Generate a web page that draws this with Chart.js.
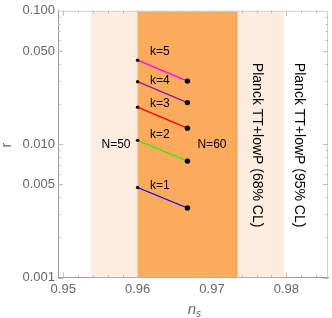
<!DOCTYPE html>
<html>
<head>
<meta charset="utf-8">
<script src="https://cdn.jsdelivr.net/npm/chart.js@4"></script>
<style>
html,body{margin:0;padding:0;background:#fff;}
#wrap{width:332px;height:318px;}
</style>
</head>
<body>
<div id="wrap"><canvas id="c" width="332" height="318"></canvas></div>
<script>
// ---- data ----
const nsValues = [0.96, 0.9667];            // N=50, N=60
const nLabels = ['N=50', 'N=60'];
const kLabels = ['k=1', 'k=2', 'k=3', 'k=4', 'k=5'];
const rN50 = [0.00473, 0.01068, 0.01895, 0.0294, 0.0426];
const rN60 = [0.00332, 0.00746, 0.01318, 0.0205, 0.0297];
const kColors = ['#0000ff', '#33ee00', '#ff0000', '#7f1f9f', '#ff00ff'];
const kLabelNs = 0.963;
const kLabelR = [0.0049, 0.01183, 0.01995, 0.0297, 0.0497];
const nLabelNs = [0.9571, 0.9700];
const nLabelR = 0.00998;
const band95 = [0.9537, 0.9797];
const band68 = [0.9600, 0.9734];
const bandTexts = ['Planck TT+lowP (68% CL)', 'Planck TT+lowP (95% CL)'];
const bandTextNs = [0.9760, 0.9817];
const bandTextR = 0.0407;
const xTicks = [0.95, 0.96, 0.97, 0.98];
const yTicks = [0.001, 0.005, 0.01, 0.05, 0.1];
const xRange = [0.9493, 0.9856];
const yRange = [0.001, 0.1];

const FONT = '"Liberation Sans", Arial, sans-serif';

const datasets = kLabels.map((k, i) => ({
  label: k,
  data: [{x: nsValues[0], y: rN50[i]}, {x: nsValues[1], y: rN60[i]}],
  borderColor: kColors[i],
  borderWidth: 1.3,
  pointRadius: [1.7, 2.7],
  pointBackgroundColor: '#000',
  pointBorderWidth: 0,
  showLine: true,
  fill: false
}));

const decor = {
  id: 'decor',
  beforeDatasetsDraw(chart) {
    const {ctx, chartArea: a, scales: {x, y}} = chart;
    ctx.save();
    ctx.beginPath(); ctx.rect(a.left, a.top, a.right - a.left, a.bottom - a.top); ctx.clip();
    const x95a = x.getPixelForValue(band95[0]), x95b = x.getPixelForValue(band95[1]);
    ctx.fillStyle = '#fdede0';
    ctx.fillRect(x95a, a.top, x95b - x95a, a.bottom - a.top);
    const x68a = x.getPixelForValue(band68[0]), x68b = x.getPixelForValue(band68[1]);
    ctx.fillStyle = '#fcab5d';
    ctx.fillRect(x68a, a.top, x68b - x68a, a.bottom - a.top);
    ctx.strokeStyle = '#f39c4c'; ctx.lineWidth = 1;
    ctx.beginPath(); ctx.moveTo(x68b - 0.5, a.top); ctx.lineTo(x68b - 0.5, a.bottom); ctx.stroke();
    ctx.restore();
  },
  afterDatasetsDraw(chart) {
    const {ctx, chartArea: a, scales: {x, y}} = chart;
    ctx.save();
    // frame top/right
    ctx.strokeStyle = '#cfcfcf'; ctx.lineWidth = 1;
    ctx.beginPath();
    ctx.moveTo(a.left, a.top + 0.5); ctx.lineTo(a.right - 0.5, a.top + 0.5); ctx.lineTo(a.right - 0.5, a.bottom);
    ctx.stroke();
    // inner ticks
    ctx.strokeStyle = '#bdbdbd';
    ctx.beginPath();
    const yMinor = [];
    for (let d = 0.001; d < 0.1; d *= 10) for (let m = 1; m < 10; m++) yMinor.push(+(d * m).toPrecision(3));
    yMinor.forEach(v => {
      const py = Math.round(y.getPixelForValue(v)) + 0.5;
      const major = yTicks.some(t => Math.abs(t - v) < 1e-9);
      const L = major ? 5 : 2.5;
      ctx.moveTo(a.left, py); ctx.lineTo(a.left + L, py);
      ctx.moveTo(a.right, py); ctx.lineTo(a.right - L, py);
    });
    for (let v = 0.95; v < 0.9856; v += 0.002) {
      const px = Math.round(x.getPixelForValue(v)) + 0.5;
      const major = xTicks.some(t => Math.abs(t - v) < 1e-6);
      const L = major ? 5 : 2.5;
      ctx.moveTo(px, a.bottom); ctx.lineTo(px, a.bottom - L);
      ctx.moveTo(px, a.top); ctx.lineTo(px, a.top + L);
    }
    ctx.stroke();
    // labels
    ctx.fillStyle = '#000';
    ctx.font = '12px ' + FONT;
    ctx.textAlign = 'center'; ctx.textBaseline = 'middle';
    kLabels.forEach((k, i) => ctx.fillText(k, x.getPixelForValue(kLabelNs), y.getPixelForValue(kLabelR[i])));
    nLabels.forEach((n, i) => ctx.fillText(n, x.getPixelForValue(nLabelNs[i]), y.getPixelForValue(nLabelR)));
    // vertical band texts
    ctx.font = '14px ' + FONT;
    bandTexts.forEach((t, i) => {
      ctx.save();
      ctx.translate(x.getPixelForValue(bandTextNs[i]), y.getPixelForValue(bandTextR));
      ctx.rotate(Math.PI / 2);
      ctx.textAlign = 'left'; ctx.textBaseline = 'middle';
      ctx.fillText(t, 0, 0);
      ctx.restore();
    });
    // axis titles
    ctx.fillStyle = '#666';
    ctx.save();
    ctx.translate(7, (a.top + a.bottom) / 2 + 1);
    ctx.rotate(-Math.PI / 2);
    ctx.font = '14px ' + FONT;
    ctx.textAlign = 'center'; ctx.textBaseline = 'middle';
    ctx.fillText('r', 0, 0);
    ctx.restore();
    const cx = (a.left + a.right) / 2;
    ctx.font = 'italic 15px ' + FONT;
    ctx.textAlign = 'right'; ctx.textBaseline = 'alphabetic';
    ctx.fillText('n', cx + 3, 314);
    ctx.font = 'italic 10px ' + FONT;
    ctx.textAlign = 'left';
    ctx.fillText('s', cx + 3, 317);
    ctx.restore();
  }
};

new Chart(document.getElementById('c'), {
  type: 'line',
  data: {datasets},
  plugins: [decor],
  options: {
    responsive: false,
    animation: false,
    layout: {padding: {top: 7, right: 4, left: 0, bottom: 0}},
    plugins: {legend: {display: false}, tooltip: {enabled: false}},
    scales: {
      x: {
        type: 'linear', min: xRange[0], max: xRange[1],
        afterBuildTicks: s => { s.ticks = xTicks.map(v => ({value: v})); },
        afterFit: s => { s.height = 40.5; },
        grid: {display: false, drawTicks: false},
        border: {display: true, color: '#9a9a9a', width: 1},
        ticks: {padding: 4, color: '#666', font: {size: 13, family: FONT}, maxRotation: 0,
                callback: v => v.toFixed(2)}
      },
      y: {
        type: 'logarithmic', min: yRange[0], max: yRange[1],
        afterBuildTicks: s => { s.ticks = yTicks.map(v => ({value: v})); },
        afterFit: s => { s.width = 58; },
        grid: {display: false, drawTicks: false},
        border: {display: true, color: '#9a9a9a', width: 1},
        ticks: {padding: 3, color: '#666', font: {size: 13, family: FONT},
                callback: v => Number(v).toFixed(3)}
      }
    }
  }
});
</script>
</body>
</html>
